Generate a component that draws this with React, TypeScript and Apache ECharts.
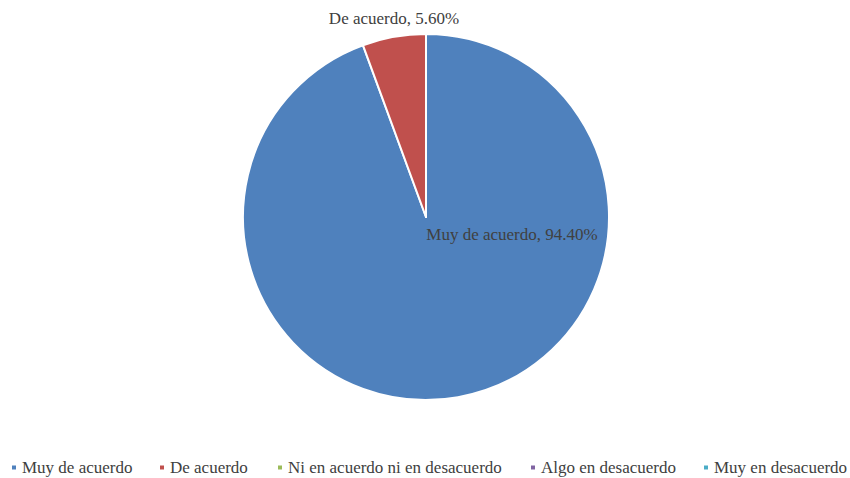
import React, { useEffect, useRef } from "react";
import * as echarts from "echarts";

const categories = [
  "Muy de acuerdo",
  "De acuerdo",
  "Ni en acuerdo ni en desacuerdo",
  "Algo en desacuerdo",
  "Muy en desacuerdo",
];
const values = [94.4, 5.6, 0, 0, 0];
const colors = ["#4F81BD", "#C0504D", "#9BBB59", "#8064A2", "#4BACC6"];
const legendLefts = [10, 158, 276, 529, 702];
const labelOffsets: [number, number][] = [
  [86, 17],
  [-32, -199],
];

export default function App() {
  const ref = useRef<HTMLDivElement>(null);
  useEffect(() => {
    if (!ref.current) return;
    const chart = echarts.init(ref.current, null, { renderer: "svg" });
    const font = "Liberation Serif";
    chart.setOption({
      animation: false,
      color: colors,
      textStyle: { fontFamily: font },
      legend: categories.map((name, i) => ({
        data: [name],
        left: legendLefts[i],
        top: 459,
        padding: 0,
        icon: "rect",
        itemWidth: 6,
        itemHeight: 6,
        itemGap: 0,
        textStyle: { fontFamily: font, fontSize: 17, color: "#404040" },
      })),
      series: [
        {
          type: "pie",
          center: [426, 217],
          radius: [0, 183],
          startAngle: 90,
          clockwise: true,
          avoidLabelOverlap: false,
          itemStyle: { borderColor: "#ffffff", borderWidth: 2 },
          labelLine: { show: false },
          emphasis: { disabled: true },
          data: categories.map((name, i) => ({
            name,
            value: values[i],
            label:
              i < 2
                ? {
                    show: true,
                    position: "center",
                    offset: labelOffsets[i],
                    formatter: (p: any) => `${p.name}, ${p.value.toFixed(2)}%`,
                    fontFamily: font,
                    fontSize: 17,
                    color: "#404040",
                  }
                : { show: false },
          })),
        },
      ],
    });
    return () => chart.dispose();
  }, []);
  return <div ref={ref} style={{ width: 850, height: 478, position: "absolute", left: 0, top: 0 }} />;
}
